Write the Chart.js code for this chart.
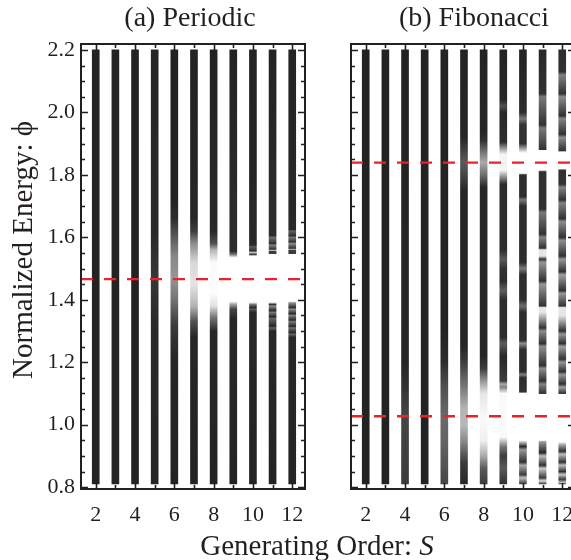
<!DOCTYPE html>
<html><head><meta charset="utf-8">
<script src="https://cdn.jsdelivr.net/npm/chart.js@4.4.1/dist/chart.umd.min.js"></script>
<style>
html,body{margin:0;padding:0;background:#fff;overflow:hidden;width:571px;height:560px;}
#wa{position:absolute;left:0;top:0;width:571px;height:560px;}
#wb{position:absolute;left:330px;top:0;width:250px;height:560px;}
</style></head><body>
<div id="wa"><canvas id="ca" width="571" height="560"></canvas></div>
<div id="wb"><canvas id="cb" width="250" height="560"></canvas></div>
<script>
// ---------------- data ----------------
const orders = [2,3,4,5,6,7,8,9,10,11,12];          // generating order S
const xTickValues = [2,4,6,8,10,12];
const yTickValues = [0.8,1.0,1.2,1.4,1.6,1.8,2.0,2.2];
const energyLow = 0.81, energyHigh = 2.2;           // extent of each spectrum column
const gapLinesPeriodic = [1.466];
const gapLinesFibonacci = [1.839, 1.027];
const panelTitles = ['(a) Periodic', '(b) Fibonacci'];
const xAxisTitle = ['Generating Order: ', 'S'];
const yAxisTitle = 'Normalized Energy: \u03d5';

// brightness profile of each column: [energy, grey level 0-255]
const periodicProfiles = [
  [[0.81,35],[2.2,35]],
  [[0.81,35],[2.2,35]],
  [[0.81,35],[2.2,35]],
  [[0.81,38],[1.30,40],[1.47,55],[1.62,40],[2.2,38]],
  [[0.81,35],[1.22,38],[1.32,60],[1.40,115],[1.47,150],[1.54,135],[1.60,90],[1.66,45],[1.72,35],[2.2,35]],
  [[0.81,35],[1.28,38],[1.33,80],[1.38,180],[1.45,228],[1.52,215],[1.58,140],[1.62,60],[1.66,38],[2.2,35]],
  [[0.81,35],[1.30,40],[1.345,120],[1.38,225],[1.42,252],[1.52,250],[1.56,180],[1.58,80],[1.62,40],[2.2,35]],
  [[0.81,35],[1.34,40],[1.37,70],[1.385,160],[1.395,255],[1.535,255],[1.545,120],[1.555,45],[2.2,35]],
  [[0.81,35],[1.36,40],[1.37,90],[1.375,40],[1.385,120],[1.392,255],[1.54,255],[1.545,60],[1.552,200],[1.556,45],[1.57,90],[1.575,40],[2.2,35]],
  [[0.81,35],[1.30,40],[1.31,100],[1.315,40],[1.34,100],[1.345,40],[1.36,120],[1.365,40],[1.38,140],[1.385,50],[1.392,255],[1.545,255],[1.548,60],[1.555,60],[1.558,190],[1.562,50],[1.575,130],[1.58,50],[1.60,110],[1.605,45],[2.2,35]],
  [[0.81,35],[1.28,40],[1.29,100],[1.295,40],[1.31,110],[1.315,40],[1.33,120],[1.335,40],[1.35,130],[1.355,40],[1.37,140],[1.375,45],[1.39,140],[1.395,255],[1.545,255],[1.548,60],[1.558,60],[1.561,170],[1.565,50],[1.58,140],[1.585,50],[1.60,120],[1.605,45],[1.62,100],[1.625,40],[2.2,35]]
];
const fibonacciProfiles = [
  [[0.81,35],[2.2,35]],
  [[0.81,35],[2.2,35]],
  [[0.81,60],[0.95,65],[1.03,70],[1.12,50],[1.2,38],[2.2,35]],
  [[0.81,35],[2.2,35]],
  [[0.81,70],[0.95,100],[1.03,105],[1.12,80],[1.2,45],[1.3,35],[2.2,35]],
  [[0.81,40],[0.88,60],[0.95,140],[1.00,185],[1.05,180],[1.12,120],[1.20,60],[1.25,38],[1.75,38],[1.80,70],[1.84,90],[1.88,65],[1.92,38],[2.2,35]],
  [[0.81,60],[0.86,90],[0.90,170],[0.95,240],[1.02,250],[1.10,230],[1.14,150],[1.18,60],[1.22,38],[1.76,38],[1.80,110],[1.84,170],[1.87,120],[1.91,50],[1.94,38],[2.2,35]],
  [[0.81,50],[0.86,90],[0.90,60],[0.93,120],[0.96,250],[1.10,250],[1.12,130],[1.13,170],[1.14,60],[1.22,40],[1.26,90],[1.28,45],[1.40,45],[1.43,95],[1.46,45],[1.50,50],[1.53,90],[1.56,45],[1.77,45],[1.795,150],[1.815,245],[1.865,245],[1.885,150],[1.905,45],[2.0,40],[2.02,80],[2.04,40],[2.2,35]],
  [[0.81,60],[0.83,190],[0.84,60],[0.87,170],[0.88,50],[0.92,150],[0.93,40],[0.945,200],[0.95,255],[1.10,255],[1.105,50],[1.15,45],[1.16,130],[1.17,45],[1.24,45],[1.26,140],[1.27,45],[1.36,45],[1.38,110],[1.40,45],[1.48,45],[1.50,120],[1.52,45],[1.70,45],[1.72,120],[1.73,45],[1.80,45],[1.805,255],[1.87,255],[1.89,120],[1.90,50],[1.96,50],[1.98,120],[2.0,45],[2.2,35]],
  [[0.81,60],[0.82,220],[0.83,60],[0.86,200],[0.87,50],[0.90,190],[0.91,40],[0.945,150],[0.95,255],[1.097,255],[1.10,50],[1.13,130],[1.14,50],[1.18,140],[1.19,50],[1.25,140],[1.26,50],[1.30,140],[1.31,50],[1.36,230],[1.375,230],[1.38,50],[1.45,150],[1.46,50],[1.52,150],[1.53,50],[1.54,230],[1.56,230],[1.565,50],[1.60,130],[1.61,50],[1.68,120],[1.69,50],[1.81,50],[1.815,255],[1.878,255],[1.88,50],[1.95,120],[1.96,50],[2.05,120],[2.06,50],[2.2,40]],
  [[0.81,70],[0.815,190],[0.825,60],[0.84,200],[0.85,50],[0.87,190],[0.88,50],[0.905,190],[0.915,50],[0.935,160],[0.945,255],[1.097,255],[1.10,50],[1.12,160],[1.13,50],[1.16,150],[1.17,50],[1.20,150],[1.21,50],[1.25,160],[1.26,50],[1.29,150],[1.30,50],[1.35,230],[1.375,230],[1.38,50],[1.42,150],[1.43,50],[1.48,160],[1.49,50],[1.53,150],[1.54,50],[1.59,140],[1.60,50],[1.65,140],[1.66,50],[1.71,130],[1.72,50],[1.76,130],[1.77,50],[1.815,50],[1.82,255],[1.873,255],[1.878,50],[1.92,140],[1.93,50],[1.98,130],[1.99,50],[2.05,140],[2.06,50],[2.12,130],[2.13,50],[2.2,45]]
];

// ---------------- helpers ----------------
const INK = '#231f20';
const SERIF = "'Liberation Serif','Times New Roman',serif";
const xMin = 1.25, xMax = 12.65, yMin = 0.794, yMax = 2.219;

function profileFill(profiles){
  return (c) => {
    const chart = c.chart;
    if (!chart.chartArea || c.type !== 'data') return '#222';
    const ys = chart.scales.y;
    const p0 = ys.getPixelForValue(energyLow), p1 = ys.getPixelForValue(energyHigh);
    const g = chart.ctx.createLinearGradient(0, p0, 0, p1);
    for (const [e, b] of profiles[c.dataIndex]) {
      const t = Math.min(1, Math.max(0, (e - energyLow) / (energyHigh - energyLow)));
      g.addColorStop(t, `rgb(${b},${b},${b})`);
    }
    return g;
  };
}

const framePlugin = {
  id: 'frame',
  afterDatasetsDraw(chart){
    const {ctx, chartArea:{left,right,top,bottom}, scales:{x,y}} = chart;
    ctx.save();
    ctx.strokeStyle = INK; ctx.lineWidth = 1.6;
    ctx.beginPath();
    for (let i = 0; i <= 28; i++) {
      const v = 0.8 + i * 0.05, py = Math.round(y.getPixelForValue(v)) + 0.5;
      const len = (i % 4 === 0) ? 7 : 4;
      ctx.moveTo(left, py); ctx.lineTo(left + len, py);
      ctx.moveTo(right, py); ctx.lineTo(right - len, py);
    }
    for (const s of orders) {
      const px = Math.round(x.getPixelForValue(s)) + 0.5;
      const len = (s % 2 === 0) ? 6 : 4;
      ctx.moveTo(px, bottom); ctx.lineTo(px, bottom - len);
      ctx.moveTo(px, top); ctx.lineTo(px, top + len);
    }
    ctx.stroke();
    ctx.lineWidth = 2;
    ctx.strokeRect(left, top, right - left, bottom - top);
    ctx.restore();
  }
};

function textPlugin(items){
  return {
    id: 'texts',
    afterDraw(chart){
      const ctx = chart.ctx; const a = chart.chartArea;
      ctx.save(); ctx.fillStyle = INK; ctx.textBaseline = 'alphabetic';
      for (const it of items) {
        const parts = it.parts;
        let w = 0;
        for (const p of parts) { ctx.font = p.font; w += ctx.measureText(p.text).width; }
        ctx.save();
        ctx.translate(a.left + it.dx, it.y);
        if (it.rotate) ctx.rotate(it.rotate);
        ctx.textAlign = 'left';
        let xx = -w / 2;
        for (const p of parts) { ctx.font = p.font; ctx.fillText(p.text, xx, 0); xx += ctx.measureText(p.text).width; }
        ctx.restore();
      }
      ctx.restore();
    }
  };
}

function makeChart(canvasId, profiles, gapLines, opts){
  const datasets = gapLines.map(e => ({
    type: 'line', data: [{x: xMin, y: e}, {x: xMax, y: e}],
    borderColor: '#e8232a', borderWidth: 2.4, borderDash: [12, 11],
    pointRadius: 0, order: 1, clip: false
  }));
  datasets.push({
    type: 'bar',
    data: orders.map(s => ({x: s, y: [energyLow, energyHigh]})),
    backgroundColor: profileFill(profiles), borderWidth: 0,
    barThickness: 7, order: 2
  });
  return new Chart(document.getElementById(canvasId), {
    data: { datasets },
    options: {
      responsive: false, animation: false,
      devicePixelRatio: 1,
      layout: { padding: opts.padding },
      plugins: { legend: {display: false}, tooltip: {enabled: false}, title: {display: false} },
      scales: {
        x: {
          type: 'linear', min: xMin, max: xMax, offset: false,
          grid: {display: false, drawTicks: false}, border: {display: false},
          ticks: { stepSize: 2, includeBounds: false, autoSkip: false, maxRotation: 0,
                   color: INK, padding: 13, font: {family: SERIF, size: 22},
                   callback: v => (xTickValues.includes(v) ? String(v) : '') },
          afterFit: s => { s.height = 71; s.paddingLeft = 0; s.paddingRight = 0; }
        },
        y: {
          type: 'linear', min: yMin, max: yMax,
          grid: {display: false, drawTicks: false}, border: {display: false},
          ticks: { display: opts.yLabels, stepSize: 0.2, includeBounds: false, color: INK, padding: 6,
                   font: {family: SERIF, size: 22},
                   callback: v => { const m = yTickValues.find(t => Math.abs(t - v) < 1e-6); return m === undefined ? '' : m.toFixed(1); } },
          afterFit: s => { s.width = opts.yWidth; s.paddingTop = 0; s.paddingBottom = 0; }
        }
      }
    },
    plugins: [framePlugin, textPlugin(opts.texts)]
  });
}

makeChart('ca', periodicProfiles, gapLinesPeriodic, {
  padding: {left: 0, right: 266, top: 44, bottom: 0}, yWidth: 81, yLabels: true,
  texts: [
    {parts: [{text: panelTitles[0], font: `28px ${SERIF}`}], dx: 109, y: 26},
    {parts: [{text: xAxisTitle[0], font: `29px ${SERIF}`}, {text: xAxisTitle[1], font: `italic 29px ${SERIF}`}], dx: 236, y: 555},
    {parts: [{text: yAxisTitle, font: `29px ${SERIF}`}], dx: -49, y: 250, rotate: -Math.PI / 2}
  ]
});
makeChart('cb', fibonacciProfiles, gapLinesFibonacci, {
  padding: {left: 0, right: 5, top: 44, bottom: 0}, yWidth: 21, yLabels: false,
  texts: [ {parts: [{text: panelTitles[1], font: `28px ${SERIF}`}], dx: 123, y: 26} ]
});
</script>
</body></html>
